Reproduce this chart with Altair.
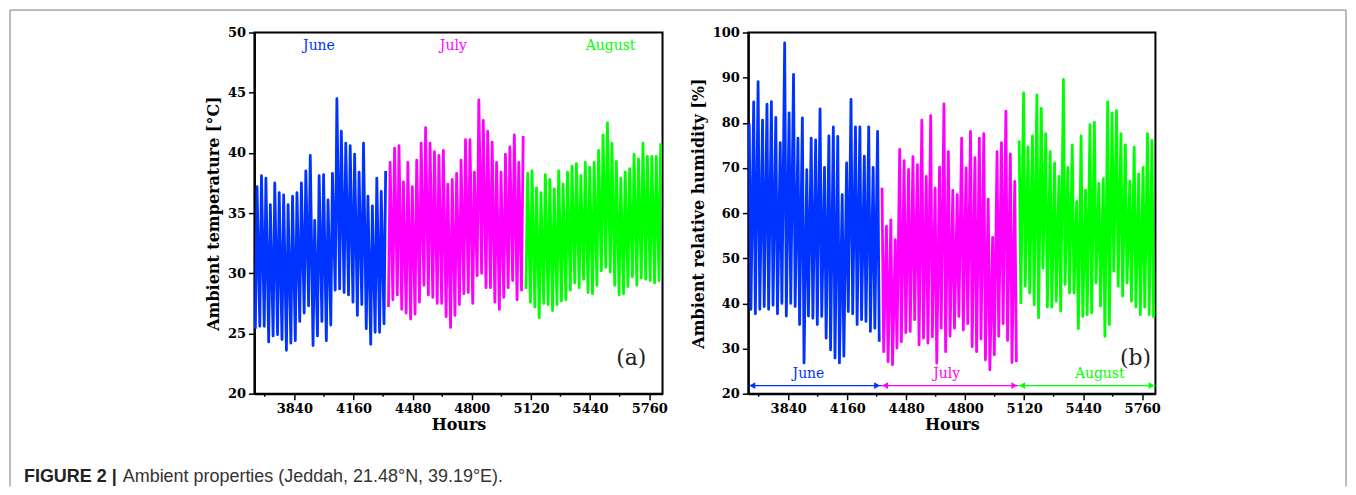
import altair as alt
import pandas as pd

# ---------------- data ----------------
months = ["June", "July", "August"]
month_colors = ["#0033FF", "#FF00FF", "#00FF00"]
month_start_hours = [3624, 4344, 5088]
month_end_hours = [4344, 5088, 5832]
days_per_month = [30, 31, 31]

# daily temperature extremes [degC]
temp_max = [37.2, 38.1, 37.9, 35.7, 37.5, 36.7, 36.5, 35.7, 36.4, 36.7, 37.5, 38.5, 39.8, 34.4, 38.1,
            38.2, 36.1, 38.3, 44.5, 41.8, 40.8, 40.6, 39.9, 38.4, 40.8, 36.4, 35.6, 37.9, 36.8, 38.5,
            39.2, 40.4, 40.6, 37.6, 39.2, 37.2, 39.4, 40.8, 42.1, 40.8, 40.1, 39.8, 40.2, 37.4, 37.8,
            38.3, 39.4, 41.1, 41.1, 38.4, 44.4, 42.7, 41.8, 40.9, 39.2, 38.4, 39.9, 40.5, 41.5, 39.2, 41.4,
            38.3, 38.5, 37.1, 36.7, 38.2, 37.8, 37.0, 38.5, 37.4, 38.4, 38.9, 39.1, 38.1, 39.2, 38.8,
            39.2, 40.2, 41.5, 42.5, 40.8, 39.3, 37.9, 38.4, 38.7, 39.9, 39.5, 40.8, 39.7, 39.7, 39.7, 40.8]
temp_min = [25.4, 25.6, 25.6, 24.3, 24.8, 24.9, 24.5, 23.6, 24.2, 24.4, 26.0, 26.7, 27.3, 24.0, 24.8,
            26.0, 24.4, 25.7, 28.6, 28.7, 28.4, 28.2, 27.6, 26.5, 27.4, 25.4, 24.1, 25.1, 25.1, 25.8,
            27.2, 27.8, 28.2, 27.0, 26.7, 26.2, 26.6, 27.6, 29.0, 28.2, 28.0, 27.5, 27.5, 26.4, 25.5,
            26.5, 27.4, 28.3, 28.4, 27.5, 29.8, 30.0, 28.8, 28.8, 27.6, 27.0, 28.0, 28.8, 29.4, 27.8, 28.6,
            28.7, 27.6, 27.2, 26.3, 27.5, 27.4, 26.9, 27.4, 27.7, 27.8, 28.6, 29.2, 28.8, 29.5, 28.4,
            28.3, 29.0, 30.2, 30.5, 30.1, 29.0, 28.2, 28.3, 28.9, 29.7, 29.0, 29.6, 29.5, 29.4, 29.2, 29.4]

# daily relative humidity extremes [%]
rh_max = [79.8, 84.6, 89.1, 80.6, 84.1, 84.7, 81.2, 75.6, 97.7, 82.2, 90.7, 76.6, 81.1, 69.6, 76.6,
          76.2, 83.1, 70.1, 77.1, 79.1, 77.0, 64.1, 71.1, 85.2, 79.1, 79.1, 72.6, 79.1, 70.1, 78.1,
          65.6, 57.1, 58.5, 54.1, 74.1, 71.6, 69.7, 72.5, 70.7, 80.6, 68.1, 81.6, 65.5, 70.2, 84.2,
          73.6, 65.0, 64.1, 76.6, 70.0, 78.1, 72.3, 76.6, 77.6, 63.1, 54.6, 73.6, 75.6, 82.6, 73.1, 67.0,
          76.1, 86.6, 74.6, 77.1, 86.2, 83.2, 77.6, 73.6, 71.1, 68.1, 89.6, 70.1, 75.1, 62.6, 77.1,
          65.1, 79.6, 80.1, 66.6, 67.6, 84.6, 82.2, 82.7, 77.6, 75.1, 67.1, 74.6, 68.6, 70.1, 77.6, 76.1]
rh_min = [38.7, 37.7, 38.7, 39.3, 38.7, 39.6, 37.7, 40.0, 37.2, 40.0, 39.3, 35.3, 26.8, 37.2, 36.7,
          35.3, 37.1, 32.3, 29.7, 27.9, 26.8, 28.3, 38.2, 37.7, 35.3, 36.4, 36.0, 33.8, 34.5, 31.5,
          29.3, 27.1, 26.4, 30.1, 31.5, 33.5, 33.8, 36.4, 30.8, 32.3, 31.2, 32.6, 26.8, 34.5, 29.3,
          32.7, 34.5, 37.1, 34.1, 35.5, 30.4, 29.3, 32.1, 27.5, 25.3, 28.6, 32.7, 35.5, 31.8, 26.9, 27.0,
          40.1, 43.8, 42.3, 39.7, 36.8, 47.8, 39.2, 39.2, 40.5, 38.3, 44.2, 42.3, 42.3, 34.4, 37.1,
          37.5, 37.9, 44.5, 39.4, 32.7, 35.3, 47.1, 43.8, 41.6, 44.5, 40.5, 39.2, 37.5, 39.2, 37.5, 36.8]

HOUR_TMIN = 5    # hour of day of the temperature minimum / humidity maximum
HOUR_TMAX = 14   # hour of day of the temperature maximum / humidity minimum

# ---------------- build tables ----------------
rows_t, rows_h = [], []
d = 0
for m, n in zip(months, days_per_month):
    for _ in range(n):
        base = 3624 + 24 * d
        rows_t.append({"hour": base + HOUR_TMIN, "v": temp_min[d], "month": m})
        rows_t.append({"hour": base + HOUR_TMAX, "v": temp_max[d], "month": m})
        rows_h.append({"hour": base + HOUR_TMIN, "v": rh_max[d], "month": m})
        rows_h.append({"hour": base + HOUR_TMAX, "v": rh_min[d], "month": m})
        d += 1
df_t = pd.DataFrame(rows_t)
df_h = pd.DataFrame(rows_h)

color_scale = alt.Scale(domain=months, range=month_colors)
XDOM = [3624, 5832]
x_major = [3840, 4160, 4480, 4800, 5120, 5440, 5760]
x_minor = [3680, 4000, 4320, 4640, 4960, 5280, 5600]
W, H = 409, 362

x_scale = alt.Scale(domain=XDOM, nice=False, zero=False)

def x_enc():
    return alt.X("hour:Q", scale=x_scale,
                 axis=alt.Axis(values=x_major, title="Hours", format="d", labelOverlap=False,
                               tickSize=6, titlePadding=1))

minor_df = pd.DataFrame({"hour": x_minor})

def minor_ticks():
    return alt.Chart(minor_df).mark_rule(color="black", strokeWidth=1.5).encode(
        x="hour:Q", y=alt.value(H), y2=alt.value(H + 3))

one = alt.Data(values=[{"a": 1}])

# ---------------- panel (a) ----------------
ya_scale = alt.Scale(domain=[20, 50], nice=False, zero=False)
y_a = alt.Y("v:Q", scale=ya_scale,
            axis=alt.Axis(values=[20 + 2.5 * i for i in range(13)], title="Ambient temperature [°C]",
                          labelOverlap=False,
                          labelExpr="datum.value % 5 === 0 ? datum.label : ''",
                          tickSize={"condition": {"test": "datum.value % 5 === 0", "value": 6}, "value": 3}))

line_a = alt.Chart(df_t).mark_line(strokeWidth=2.8, strokeJoin="round").encode(
    x=x_enc(), y=y_a,
    color=alt.Color("month:N", scale=color_scale, legend=None),
    order="hour:Q")

lab_a = pd.DataFrame({"month": months, "hour": [3973, 4700, 5551], "v": [48.9, 48.9, 48.9]})
text_a = alt.Chart(lab_a).mark_text(font="DejaVu Serif", fontSize=14).encode(
    x="hour:Q", y="v:Q", text="month:N",
    color=alt.Color("month:N", scale=color_scale, legend=None))

tag_a = alt.Chart(pd.DataFrame({"hour": [5663], "v": [23.0], "t": ["(a)"]})).mark_text(
    font="DejaVu Serif", fontSize=22, color="#222").encode(x="hour:Q", y="v:Q", text="t:N")

frame_col = "#777"
frame_l = alt.Chart(one).mark_rule(color=frame_col, strokeWidth=1).encode(
    x=alt.value(-245), y=alt.value(-22.5), y2=alt.value(455))
frame_t = alt.Chart(one).mark_rule(color=frame_col, strokeWidth=1).encode(
    x=alt.value(-245), x2=alt.value(1094), y=alt.value(-22.5))
frame_r = alt.Chart(one).mark_rule(color=frame_col, strokeWidth=1).encode(
    x=alt.value(1094), y=alt.value(-22.5), y2=alt.value(455))

cap_b = alt.Chart(one).mark_text(font="Liberation Sans", fontSize=18, fontWeight="bold",
                                 align="left", baseline="alphabetic", color="#222").encode(
    x=alt.value(-231), y=alt.value(451), text=alt.value("FIGURE 2 |"))
cap_r = alt.Chart(one).mark_text(font="Liberation Sans", fontSize=18,
                                 align="left", baseline="alphabetic", color="#333").encode(
    x=alt.value(-132), y=alt.value(451),
    text=alt.value("Ambient properties (Jeddah, 21.48°N, 39.19°E)."))

panel_a = alt.layer(line_a, minor_ticks(), text_a, tag_a, frame_l, frame_t, frame_r,
                    cap_b, cap_r).properties(width=W, height=H)

# ---------------- panel (b) ----------------
yb_scale = alt.Scale(domain=[20, 100], nice=False, zero=False)
y_b = alt.Y("v:Q", scale=yb_scale,
            axis=alt.Axis(values=[20 + 5 * i for i in range(17)], title="Ambient relative humidity [%]",
                          labelOverlap=False,
                          labelExpr="datum.value % 10 === 0 ? datum.label : ''",
                          tickSize={"condition": {"test": "datum.value % 10 === 0", "value": 6}, "value": 3}))

line_b = alt.Chart(df_h).mark_line(strokeWidth=2.8, strokeJoin="round").encode(
    x=x_enc(), y=y_b,
    color=alt.Color("month:N", scale=color_scale, legend=None),
    order="hour:Q")

arr = pd.DataFrame({"month": months, "hour": month_start_hours, "hour2": month_end_hours,
                    "v": [21.8] * 3, "c": [3950, 4700, 5530], "lv": [24.3] * 3})
arr_line = alt.Chart(arr).mark_rule(strokeWidth=1.2).encode(
    x="hour:Q", x2="hour2:Q", y="v:Q",
    color=alt.Color("month:N", scale=color_scale, legend=None))
head_l = alt.Chart(arr).mark_point(shape="triangle-left", filled=True, size=45, opacity=1,
                                   xOffset=4).encode(
    x="hour:Q", y="v:Q", color=alt.Color("month:N", scale=color_scale, legend=None))
head_r = alt.Chart(arr).mark_point(shape="triangle-right", filled=True, size=45, opacity=1,
                                   xOffset=-4).encode(
    x="hour2:Q", y="v:Q", color=alt.Color("month:N", scale=color_scale, legend=None))
lab_b = alt.Chart(arr).mark_text(font="DejaVu Serif", fontSize=14).encode(
    x="c:Q", y="lv:Q", text="month:N",
    color=alt.Color("month:N", scale=color_scale, legend=None))
tag_b = alt.Chart(pd.DataFrame({"hour": [5724], "v": [28.0], "t": ["(b)"]})).mark_text(
    font="DejaVu Serif", fontSize=22, color="#222").encode(x="hour:Q", y="v:Q", text="t:N")

panel_b = alt.layer(line_b, minor_ticks(), arr_line, head_l, head_r, lab_b, tag_b).properties(
    width=408, height=H)

chart = alt.hconcat(panel_a, panel_b, spacing=86, bounds="flush").properties(
    padding=0
).configure_view(stroke="black", strokeWidth=2).configure_axis(
    domainColor="black", domainWidth=2, tickColor="black", tickWidth=1.5,
    labelFont="DejaVu Serif", labelFontWeight="bold", labelFontSize=13, labelColor="black",
    labelPadding=3, labelOverlap=False, titleFont="DejaVu Serif", titleFontWeight="bold",
    titleFontSize=16, titleColor="black", titlePadding=6, grid=False
)

chart.save("out.html", embed_options={"renderer": "svg", "actions": False})
